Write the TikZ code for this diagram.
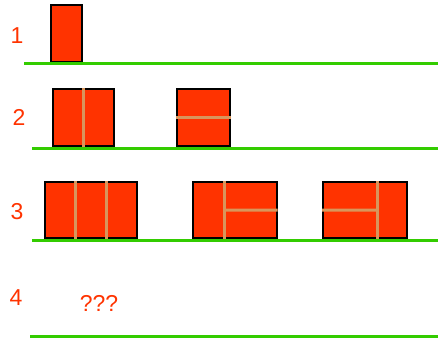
\documentclass[tikz,border=0pt]{standalone}
\usepackage{fontspec}
\setmainfont{Liberation Sans}
\usetikzlibrary{calc}
\definecolor{brick}{HTML}{FF3300}
\definecolor{mortar}{HTML}{D8965C}
\definecolor{turf}{HTML}{33CC00}

\begin{document}
\begin{tikzpicture}[x=1pt, y=-1pt,
        blk/.style={draw, fill=brick, line width=1.6pt, inner sep=0pt,
          anchor=south west, minimum height=57pt},
        sm/.style={draw=mortar, line width=3pt},
        gnd/.style={draw=turf, line width=3pt},
        lbl/.style={text=brick, inner sep=0pt,
          font=\fontsize{23}{23}\selectfont}]

      \useasboundingbox (0,0) rectangle (438,339);

      % row 1
      \node[lbl] (l1) at (17,36) {1};
      \node[blk, minimum width=31pt] (a1) at (50,63) {};
      \coordinate (g1a) at (24,64);
      \coordinate (g1b) at (438,64);
      \draw[gnd] (g1a) -- (g1b);

      % row 2
      \node[lbl] (l2) at (19,117) {2};
      \node[blk, minimum width=61pt] (a2) at (52,147) {};
      \node[blk, minimum width=53pt] (b2) at (176,147) {};
      \draw[sm] (a2.north) -- (a2.south);
      \draw[sm] (b2.west) -- (b2.east);
      \coordinate (g2a) at (32,148);
      \coordinate (g2b) at (438,148);
      \draw[gnd] (g2a) -- (g2b);

      % row 3
      \node[lbl] (l3) at (17,212) {3};
      \node[blk, minimum width=92pt, minimum height=56pt] (a3) at (44,239) {};
      \node[blk, minimum width=84pt, minimum height=56pt] (b3) at (192,239) {};
      \node[blk, minimum width=84pt, minimum height=56pt] (c3) at (322,239) {};
      \foreach \f in {1/3, 2/3}
        \draw[sm] ($(a3.north west)!\f!(a3.north east)$)
          -- ($(a3.south west)!\f!(a3.south east)$);
      \coordinate (bt) at ($(b3.north west)!0.38!(b3.north east)$);
      \coordinate (bb) at ($(b3.south west)!0.38!(b3.south east)$);
      \draw[sm] (bt) -- (bb);
      \draw[sm] ($(bt)!0.5!(bb)$) -- (b3.east);
      \coordinate (ct) at ($(c3.north west)!0.65!(c3.north east)$);
      \coordinate (cb) at ($(c3.south west)!0.65!(c3.south east)$);
      \draw[sm] (ct) -- (cb);
      \draw[sm] (c3.west) -- ($(ct)!0.5!(cb)$);
      \coordinate (g3a) at (32,240);
      \coordinate (g3b) at (438,240);
      \draw[gnd] (g3a) -- (g3b);

      % row 4
      \node[lbl] (l4) at (16,298) {4};
      \node[lbl] (q4) at (99,303) {???};
      \coordinate (g4a) at (30,336);
      \coordinate (g4b) at (438,336);
      \draw[gnd] (g4a) -- (g4b);
    \end{tikzpicture}
\end{document}
